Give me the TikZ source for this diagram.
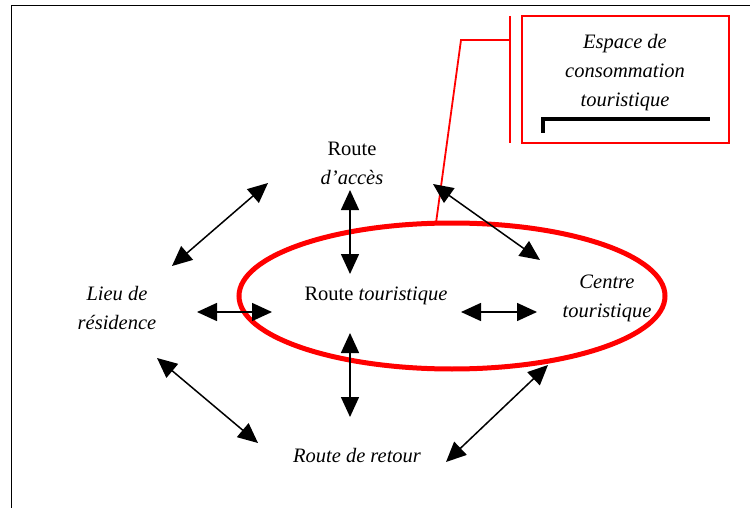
\documentclass[tikz,border=0pt]{standalone}
\usepackage{fontspec}
\setmainfont{Liberation Serif}
\usetikzlibrary{arrows.meta}
\begin{document}
\begin{tikzpicture}[x=1pt,y=-1pt,
  lbl/.style={font=\fontsize{20.5}{29}\selectfont\itshape, align=center, inner sep=0pt},
  dbl/.style={line width=1.5pt, {Triangle[length=20pt,width=18pt]}-{Triangle[length=20pt,width=18pt]}},
  redline/.style={draw=red, line width=1.8pt}]
\useasboundingbox (0,0) rectangle (750,508);
% frame
\draw[line width=1pt] (750,6) -- (11,6) -- (11,508);
% callout box
\node[draw=red, line width=2pt, minimum width=207pt, minimum height=127pt, inner sep=0pt] (box) at (625.5,79.5) {};
\node[lbl] (esp) at (625,73) {Espace de\\consommation\\touristique};
\draw[line width=4.5pt] (543,133) |- (710,119);
\coordinate (vt) at (510,16);
\coordinate (vb) at (510,143);
\coordinate (vm) at (510,40);
\coordinate (ck) at (461,40);
\coordinate (ct) at (436,223);
\draw[redline] (vt) -- (vb);
\draw[redline] (vm) -- (ck) -- (ct);
% ellipse
\coordinate (elc) at (452,296);
\draw[red, line width=5pt] (elc) ellipse [x radius=213pt, y radius=73pt];
% texts
\node[lbl] (acc) at (352,163) {\upshape Route\\d'accès};
\node[lbl] (rt) at (376,296) {\upshape Route \itshape touristique};
\node[lbl] (lieu) at (117,308) {Lieu de\\résidence};
\node[lbl] (ctr) at (607,298) {Centre\\touristique};
\node[lbl] (ret) at (357,456) {Route de retour};
% arrows
\coordinate (a1) at (172,266); \coordinate (b1) at (268,183);
\coordinate (a2) at (350,190); \coordinate (b2) at (350,274);
\coordinate (a3) at (433,184); \coordinate (b3) at (540,260);
\coordinate (a4) at (197,312); \coordinate (b4) at (272,312);
\coordinate (a5) at (461,312); \coordinate (b5) at (537,312);
\coordinate (a6) at (350,333); \coordinate (b6) at (350,417);
\coordinate (a7) at (157,358); \coordinate (b7) at (258,443);
\coordinate (a8) at (446,462); \coordinate (b8) at (548,365);
\foreach \i in {1,...,8} \draw[dbl] (a\i) -- (b\i);
\end{tikzpicture}
\end{document}
